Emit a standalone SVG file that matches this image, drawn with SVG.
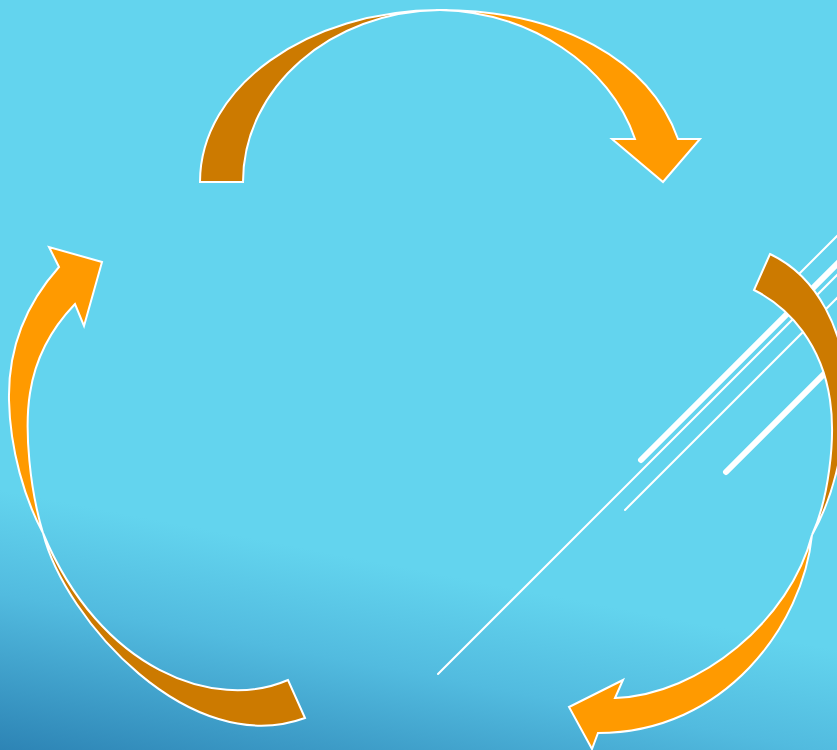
<svg xmlns="http://www.w3.org/2000/svg" width="837" height="750" viewBox="0 0 837 750">
  <defs>
    <linearGradient id="bg" gradientUnits="userSpaceOnUse" x1="100" y1="509" x2="52" y2="760">
      <stop offset="0" stop-color="#63D4EE"/>
      <stop offset="0.4" stop-color="#52BBDF"/>
      <stop offset="1" stop-color="#2D84B5"/>
    </linearGradient>
  </defs>
  <style>
    .dark { fill: #CC7A00; stroke: #FFFFFF; stroke-width: 2; stroke-linejoin: miter; }
    .bright { fill: #FF9A00; stroke: #FFFFFF; stroke-width: 2; stroke-linejoin: miter; }
    .thin { stroke: #FFFFFF; stroke-width: 2; stroke-linecap: round; fill: none; }
    .thick { stroke: #FFFFFF; stroke-width: 6; stroke-linecap: round; fill: none; }
  </style>
  <rect x="0" y="0" width="837" height="750" fill="#63D4EE"/>
  <rect x="0" y="0" width="837" height="750" fill="url(#bg)"/>

  <g id="stripes">
    <line class="thin" x1="790" y1="283" x2="860" y2="213"/>
    <line class="thick" x1="641" y1="460" x2="860" y2="241"/>
    <line class="thin" x1="438" y1="674" x2="860" y2="252"/>
    <line class="thin" x1="625" y1="510" x2="860" y2="275"/>
    <line class="thick" x1="726" y1="472" x2="860" y2="338"/>
  </g>

  <g id="arrow-top">
    <path class="dark" d="M200,182 C200,87 307.5,10 440,10 C331,11 243,87.6 243,182 Z"/>
    <path class="bright" d="M440,10 C560,10 650,60 678,139 L700,139 L663,182 L612,139 L635,139 C610,65 530,12 440,10 Z"/>
  </g>

  <g id="arrow-right">
    <path class="dark" d="M770,254 C815,275 848,330 846,400 C845,450 832,500 812,535 C828,500 836,440 830,400 C822,345 790,308 754,290 Z"/>
    <path class="bright" d="M812,535 C803,625 725,733 598,733 L592,749 L569,707 L623,680 L615,698 C700,695 790,620 812,535 Z"/>
  </g>

  <g id="arrow-left">
    <path class="dark" d="M43,533 C65,620 190,760 305,718 L288,680 C215,712 100,670 43,533 Z"/>
    <path class="bright" d="M59,267 L49,247 L102,262 L84,326 L75,304 C50,330 35,360 30,393 C24,430 30,490 43,533 C25,500 10,450 9,400 C8,350 25,305 59,267 Z"/>
  </g>
</svg>
